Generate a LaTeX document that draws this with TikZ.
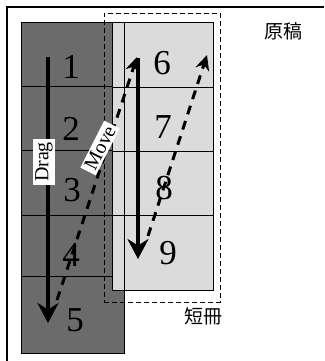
\documentclass[tikz,border=0pt]{standalone}
\usepackage{fontspec}
\setmainfont{Liberation Serif}
\newfontfamily\cjk{Noto Sans CJK JP}
\usetikzlibrary{arrows.meta}
\begin{document}
\begin{tikzpicture}[x=1pt,y=-1pt,
  darkcell/.style={draw=black,line width=0.9pt,fill=black!58,minimum width=103pt,minimum height=77pt,inner sep=0pt,outer sep=0pt},
  lightcell/.style={draw=black,line width=0.9pt,fill=black!14,minimum width=101pt,minimum height=75pt,inner sep=0pt,outer sep=0pt},
  dashbox/.style={draw=black,line width=0.9pt,dash pattern=on 5pt off 3pt,minimum width=116pt,minimum height=289pt,inner sep=0pt},
  num/.style={font=\fontsize{35}{35}\selectfont,inner sep=0pt},
  tag/.style={fill=white,inner xsep=3pt,inner ysep=2pt,font=\fontsize{20}{20}\selectfont},
  cjklab/.style={font=\cjk\fontsize{19}{19}\selectfont,inner sep=0pt},
  solidarrow/.style={line width=3.6pt,-{Stealth[length=20pt,width=21pt]}},
  dasharrow/.style={line width=3pt,dash pattern=on 9pt off 7pt,-{Stealth[length=15pt,width=14pt]}}]
\useasboundingbox (0,0) rectangle (324,361);
% outer frame
\draw[line width=1.2pt] (7,361) -- (7,7) -- (324,7);
% dark column cells
\node[darkcell] (d1) at (72.5,60.5) {};
\node[darkcell] (d2) at (72.5,125) {};
\node[darkcell] (d3) at (72.5,188.5) {};
\node[darkcell] (d4) at (72.5,253.5) {};
\node[darkcell] (d5) at (72.5,314.5) {};
% light strip cells
\node[lightcell] (l1) at (162.5,59.5) {};
\node[lightcell] (l2) at (162.5,124.5) {};
\node[lightcell] (l3) at (162.5,189) {};
\node[lightcell] (l4) at (162.5,252.5) {};
% dark column right edge seen through strip
\draw[line width=0.9pt] (d1.north east) -- (d4.south east);
% dashed strip frame
\node[dashbox] (strip) at (162,157.5) {};
% labels
\node[cjklab] (genko) at (283,31) {原稿};
\node[cjklab] (tanzaku) at (203,316) {短冊};
% numbers
\node[num] (n1) at (71,67) {1};
\node[num] (n2) at (71,129) {2};
\node[num] (n3) at (72,190) {3};
\node[num] (n4) at (71,255) {4};
\node[num] (n5) at (75,320) {5};
\node[num] (n6) at (162,63) {6};
\node[num] (n7) at (163,127) {7};
\node[num] (n8) at (164,188) {8};
\node[num] (n9) at (168,253) {9};
% arrows
\coordinate (dragS) at (48,57);
\coordinate (dragE) at (48,323);
\coordinate (backS) at (138,58);
\coordinate (backE) at (138,259);
\coordinate (moveS) at (57,300);
\coordinate (moveE) at (137,57);
\coordinate (mv2S) at (148,236);
\coordinate (mv2E) at (207,55);
\draw[solidarrow] (dragS) -- (dragE);
\draw[solidarrow] (backS) -- (backE);
\draw[dasharrow] (moveS) -- (moveE);
\draw[dasharrow] (mv2S) -- (mv2E);
% arrow tags
\node[tag,rotate=90] (drag) at (44,162) {Drag};
\node[tag,rotate=63] (move) at (100,148) {Move};
\end{tikzpicture}
\end{document}
